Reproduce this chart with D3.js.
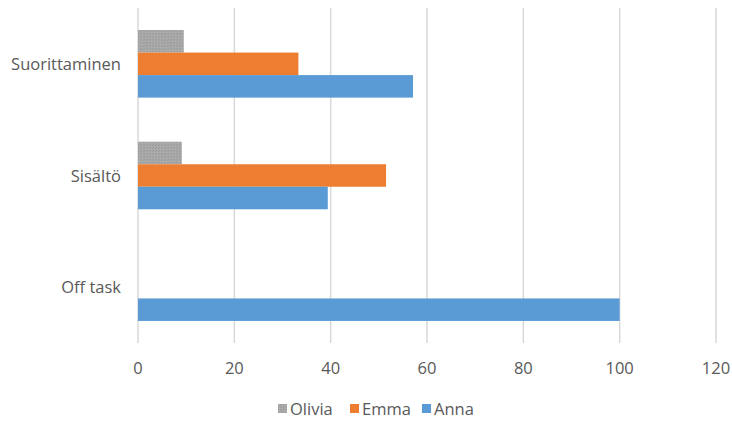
<!DOCTYPE html>
<html>
<head>
<meta charset="utf-8">
<script src="https://d3js.org/d3.v7.min.js"></script>
<style>
  body { margin: 0; background: #fff; }
  text { font-family: "Open Sans", "Noto Sans", sans-serif; fill: #595959; }
</style>
</head>
<body>
<script>
var width = 732,
    height = 421;

// data
var categories = ["Suorittaminen", "Sisältö", "Off task"];
var seriesNames = ["Olivia", "Emma", "Anna"];
var olivia = [9.5, 9.1, 0];
var emma = [33.3, 51.5, 0];
var anna = [57.1, 39.4, 100];
var xTicks = [0, 20, 40, 60, 80, 100, 120];

var colors = { Olivia: "#a5a5a5", Emma: "#ed7d31", Anna: "#5b9bd5" };
var values = { Olivia: olivia, Emma: emma, Anna: anna };

var svg = d3.select("body").append("svg").attr("width", width).attr("height", height);

// speckled grey fill like the original
var defs = svg.append("defs");
var pat = defs.append("pattern").attr("id", "grey").attr("patternUnits", "userSpaceOnUse")
    .attr("width", 3).attr("height", 3);
pat.append("rect").attr("width", 3).attr("height", 3).attr("fill", "#a8a8a8");
pat.append("rect").attr("x", 0).attr("y", 0).attr("width", 1).attr("height", 1).attr("fill", "#9a9a9a");
pat.append("rect").attr("x", 2).attr("y", 1).attr("width", 1).attr("height", 1).attr("fill", "#9d9d9d");
pat.append("rect").attr("x", 1).attr("y", 2).attr("width", 1).attr("height", 1).attr("fill", "#b0b0b0");

var x = d3.scaleLinear().domain([0, 120]).range([138, 716]);
var y = d3.scaleBand().domain(categories).range([8, 343]).paddingInner(0.395).paddingOuter(0.1975);
var ySub = d3.scaleBand().domain(seriesNames).range([0, y.bandwidth()]);

// gridlines
svg.append("g").selectAll("line").data(xTicks).enter().append("line")
    .attr("x1", function(d){ return x(d); })
    .attr("x2", function(d){ return x(d); })
    .attr("y1", 8).attr("y2", 343)
    .attr("stroke", "#d9d9d9").attr("stroke-width", 1.5);

// bars
seriesNames.forEach(function(s){
  svg.append("g").selectAll("rect").data(categories).enter().append("rect")
      .attr("x", x(0))
      .attr("y", function(c){ return y(c) + ySub(s); })
      .attr("width", function(c, i){ return x(values[s][i]) - x(0); })
      .attr("height", ySub.bandwidth())
      .attr("fill", s === "Olivia" ? "url(#grey)" : colors[s]);
});

// x tick labels
svg.append("g").selectAll("text").data(xTicks).enter().append("text")
    .attr("x", function(d){ return x(d); })
    .attr("y", 374)
    .attr("text-anchor", "middle")
    .style("font-size", "16.5px")
    .text(function(d){ return d; });

// category labels
svg.append("g").selectAll("text").data(categories).enter().append("text")
    .attr("x", 121)
    .attr("y", function(c){ return y(c) + y.bandwidth() / 2 + 6; })
    .attr("text-anchor", "end")
    .style("font-size", "16.5px")
    .text(function(c){ return c; });

// legend
var legendX = [278, 350, 422];
var legend = svg.append("g").selectAll("g").data(seriesNames).enter().append("g")
    .attr("transform", function(d, i){ return "translate(" + legendX[i] + ",409)"; });
legend.append("rect").attr("x", 0).attr("y", -5).attr("width", 9).attr("height", 9)
    .attr("fill", function(d){ return d === "Olivia" ? "url(#grey)" : colors[d]; });
legend.append("text").attr("x", 12).attr("y", 6).style("font-size", "16.5px")
    .text(function(d){ return d; });
</script>
</body>
</html>
